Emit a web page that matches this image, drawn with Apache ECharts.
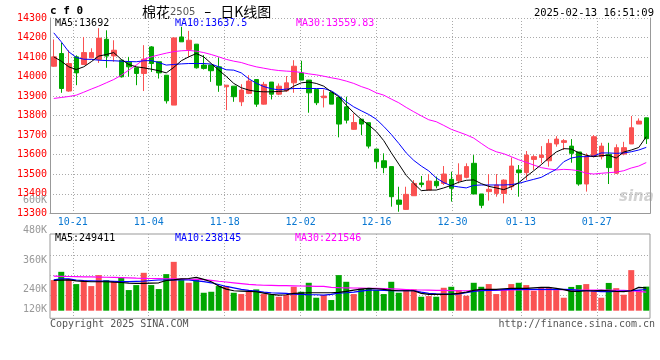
<!DOCTYPE html>
<html><head><meta charset="utf-8">
<script src="https://cdn.jsdelivr.net/npm/echarts@6/dist/echarts.min.js"></script>
<style>html,body{margin:0;padding:0;background:#fff}#c{width:660px;height:360px}</style>
</head><body><div id="c"></div>
<script>
const dates = ['10-16','10-17','10-18','10-21','10-22','10-23','10-24','10-25','10-28','10-29','10-30','10-31',
'11-01','11-04','11-05','11-06','11-07','11-08','11-11','11-12','11-13','11-14','11-15','11-18','11-19','11-20','11-21','11-22','11-25','11-26','11-27','11-28','11-29',
'12-02','12-03','12-04','12-05','12-06','12-09','12-10','12-11','12-12','12-13','12-16','12-17','12-18','12-19','12-20','12-23','12-24','12-25','12-26','12-27','12-30','12-31',
'01-02','01-03','01-06','01-07','01-08','01-09','01-10','01-13','01-14','01-15','01-16','01-17','01-20','01-21','01-22','01-23','01-24','01-27',
'02-05','02-06','02-07','02-10','02-11','02-12','02-13'];
const labelDates = ['10-21','11-04','11-18','12-02','12-16','12-30','01-13','01-27'];

const opens = [14053,14118,13926,14101,14062,14096,14088,14191,14106,14084,14074,14045,14016,14152,14076,14007,13854,14203,14139,14166,14059,14059,14050,
13948,13951,13871,13914,13985,13859,13972,13910,13927,13968,14019,13982,13934,13892,13920,13893,13845,13730,13782,13764,13629,13569,13539,13368,13320,13390,13455,13419,
13464,13453,13474,13467,13484,13556,13399,13411,13402,13402,13436,13522,13508,13576,13586,13569,13655,13663,13644,13614,13450,13593,13590,13602,13505,13603,13655,13757,13789];
const closes = [14101,13939,14067,14019,14123,14123,14197,14105,14135,13999,14050,14016,14089,14067,14019,13876,14198,14178,14186,14045,14042,14030,13956,
13956,13897,13931,13977,13859,13960,13910,13951,13968,14053,13982,13917,13866,13900,13859,13757,13777,13765,13757,13644,13564,13534,13385,13346,13397,13453,13447,13465,
13441,13501,13428,13496,13539,13399,13341,13423,13445,13470,13542,13508,13598,13590,13598,13658,13680,13672,13607,13450,13593,13692,13644,13534,13636,13636,13738,13772,13682];
const lows = [14050,13917,13922,13956,14060,14094,14070,14045,14076,13995,13999,13956,13926,14024,13990,13862,13854,14178,14101,14041,14036,13973,13922,
13828,13871,13849,13910,13845,13857,13883,13905,13922,13917,13982,13815,13854,13842,13859,13689,13760,13727,13700,13632,13530,13505,13334,13308,13317,13390,13433,13419,
13428,13445,13360,13453,13479,13399,13326,13365,13385,13351,13419,13385,13470,13522,13556,13539,13641,13624,13559,13441,13411,13586,13576,13450,13501,13597,13655,13757,13655];
const highs = [14190,14173,14135,14109,14203,14145,14248,14237,14186,14084,14101,14045,14161,14156,14076,14007,14200,14255,14234,14166,14110,14059,14098,
13956,13951,13961,14007,13985,13973,13972,13965,14003,14084,14081,13982,13934,13934,13920,13893,13897,13811,13782,13764,13629,13607,13539,13436,13436,13470,13491,13501,
13488,13542,13513,13556,13556,13598,13399,13501,13501,13474,13586,13547,13619,13598,13644,13680,13695,13680,13680,13614,13607,13701,13661,13661,13653,13666,13798,13786,13789];

const ma5 = [14101,14079,14050,14036,14050,14076,14105,14113,14123,14088,14062,14050,14045,14038,14030,14019,14047,14081,14101,14118,14101,14067,14033,
14001,13965,13943,13931,13924,13922,13922,13924,13927,13951,13968,13972,13965,13951,13922,13897,13854,13815,13781,13752,13719,13672,13610,13552,13494,13453,13416,13419,
13419,13430,13443,13459,13469,13471,13452,13438,13430,13421,13436,13457,13488,13518,13549,13583,13614,13631,13629,13610,13597,13590,13595,13597,13583,13614,13624,13637,13692];
const ma10 = [14224,14178,14127,14098,14089,14088,14084,14082,14081,14079,14077,14076,14081,14082,14072,14059,14062,14065,14067,14067,14067,14064,14050,
14035,14033,14019,13989,13966,13949,13938,13932,13936,13939,13939,13939,13939,13939,13927,13902,13871,13845,13825,13806,13782,13745,13704,13658,13609,13571,13542,13517,
13481,13457,13441,13435,13430,13443,13445,13445,13445,13445,13447,13453,13464,13474,13484,13505,13525,13564,13583,13590,13590,13593,13609,13609,13607,13609,13615,13624,13637.5];
const ma30 = [13888,13893,13898,13905,13920,13936,13951,13968,13985,14007,14033,14059,14088,14101,14111,14120,14128,14132,14134,14130,14123,14113,14101,
14088,14079,14072,14060,14050,14043,14036,14031,14028,14026,14021,14014,14009,14002,13994,13987,13977,13965,13949,13936,13917,13905,13885,13866,13842,13820,13799,13779,
13769,13750,13730,13716,13702,13685,13658,13632,13615,13605,13590,13574,13561,13547,13534,13527,13522,13525,13523,13518,13505,13501,13505,13508,13511,13518,13532,13542,13559.83];

const volumes = [299500,353500,306000,273500,299500,260500,332000,299500,288500,317000,234500,267000,347000,267000,241000,338500,418500,299500,282000,304000,
217000,223500,260500,260500,217000,208500,223500,239000,208500,206500,191000,202000,256000,223500,282000,184500,202000,169500,332000,288500,
208500,245500,245500,234500,208500,288500,217000,239000,239000,191000,195500,191000,249500,256000,234500,197500,282000,256000,273500,208500,
239000,273500,282000,267000,230000,252000,252000,234500,184500,255000,267000,273500,234500,184500,281000,247000,204000,364500,234500,257000];
const volMa5 = [297000,299500,301000,295000,291000,288600,288600,288600,286000,284000,280000,278000,278000,280000,282000,297000,301000,308000,310000,317000,
304000,288600,260500,241000,230000,228000,226000,223600,215000,206000,202000,204000,212700,215000,217000,217000,217000,217000,219000,226000,
234500,241000,245000,243000,239000,232000,230000,230000,230000,213000,206000,206000,206000,208000,213000,221000,232000,239000,239000,239000,
243000,245000,245000,245000,249000,252000,252000,245000,237000,226000,226000,230000,230000,232000,230000,226000,224000,230000,252000,249411];
const volMa10 = [301000,308000,308000,300000,297000,295000,293000,293000,291000,289000,289000,291000,293000,297000,300000,300000,301000,301000,300000,295000,
289000,282000,271000,258000,249000,239000,232000,228000,221000,217000,215000,213000,208000,206000,204000,204000,202000,207000,215000,217000,
221000,228000,234500,234500,232000,230000,230000,230000,230000,221000,213000,210000,208000,208000,210000,217000,226000,230000,232000,234500,
237000,239000,239000,239000,239000,239000,239000,239000,239000,237000,232000,230000,228000,224000,224000,226000,228000,230000,234500,238145];
const volMa30 = [325000,324000,323000,322000,321000,320000,319000,318000,317000,316000,314000,312000,311000,310000,309000,308000,307000,306000,305000,304000,
303000,298000,292000,287000,282000,277000,272000,268000,266000,265000,264000,263000,262000,261000,260000,259000,258000,252000,250000,249000,
248000,247000,246000,245000,244000,242000,240000,238000,236000,235000,234000,233000,232000,231000,230000,230000,231000,232000,233000,234000,
234000,235000,236000,237000,238000,238000,238000,238000,237000,236000,235000,235000,235000,234000,234000,233000,232000,230000,226000,221546];

const priceMin = 13300, priceMax = 14300, priceStep = 100;
const volMin = 100000, volMax = 600000;
const volTickLabels = ['600K','480K','360K','240K','120K'];
const volTickY = [200.5, 230.7, 260.7, 289.3, 309.3];

const UP = '#fa5252', DOWN = '#00a600';
const MONO = "'DejaVu Sans Mono', monospace";
const GRIDC = '#aaaaaa', FRAMEC = '#999999';
const dotted = {color: GRIDC, type: [1, 2], width: 1};

const kData = dates.map((d, i) => [opens[i], closes[i], lows[i], highs[i]]);
const volData = volumes.map((v, i) => ({value: v, itemStyle: {color: closes[i] >= opens[i] ? UP : DOWN}}));
const isLabel = (idx, val) => labelDates.indexOf(val) >= 0;
const last = a => a[a.length - 1];
const mid = {textVerticalAlign: 'middle', verticalAlign: 'middle'};

const chart = echarts.init(document.getElementById('c'), null, {renderer: 'canvas'});
const graphics = [
  {type: 'text', x: 50, y: 11, style: Object.assign({text: 'c f 0', font: "bold 11px " + MONO, fill: '#000'}, mid)},
  {type: 'text', x: 142, y: 12, style: Object.assign({text: '{a|棉花}{b|2505}{c|  –  }{a|日K线图}',
     rich: {a: {font: "14px 'Noto Sans CJK SC'", fill: '#000'}, b: {font: "10px 'DejaVu Sans'", fill: '#555'}, c: {font: "14px 'DejaVu Sans'", fill: '#000'}}}, mid)},
  {type: 'text', x: 654, y: 13, style: Object.assign({text: '2025-02-13 16:51:09', font: "10.5px " + MONO, fill: '#000', textAlign: 'right', align: 'right'}, mid)},
  {type: 'text', x: 55, y: 23.5, style: Object.assign({text: 'MA5:' + last(ma5), font: "10px " + MONO, fill: '#000'}, mid)},
  {type: 'text', x: 175, y: 23.5, style: Object.assign({text: 'MA10:' + last(ma10), font: "10px " + MONO, fill: '#0000ff'}, mid)},
  {type: 'text', x: 296, y: 23.5, style: Object.assign({text: 'MA30:' + last(ma30), font: "10px " + MONO, fill: '#ff00ff'}, mid)},
  {type: 'text', x: 55, y: 238.5, style: Object.assign({text: 'MA5:' + last(volMa5), font: "10px " + MONO, fill: '#000'}, mid)},
  {type: 'text', x: 175, y: 238.5, style: Object.assign({text: 'MA10:' + last(volMa10), font: "10px " + MONO, fill: '#0000ff'}, mid)},
  {type: 'text', x: 295, y: 238.5, style: Object.assign({text: 'MA30:' + last(volMa30), font: "10px " + MONO, fill: '#ff00ff'}, mid)},
  {type: 'text', x: 50, y: 324, style: Object.assign({text: 'Copyright 2025 SINA.COM', font: "10px " + MONO, fill: '#555'}, mid)},
  {type: 'text', x: 655, y: 324, style: Object.assign({text: 'http://finance.sina.com.cn', font: "10px " + MONO, fill: '#555', textAlign: 'right', align: 'right'}, mid)},
  {type: 'text', x: 619, y: 197, style: Object.assign({text: 'sina', font: "italic bold 15px 'DejaVu Sans'", fill: '#d2d2d2'}, mid)}
];
volTickLabels.forEach((t, k) => graphics.push({type: 'text', x: 47, y: volTickY[k],
  style: Object.assign({text: t, font: "10px " + MONO, fill: '#999', textAlign: 'right', align: 'right'}, mid)}));

chart.setOption({
  animation: false,
  backgroundColor: '#fff',
  grid: [
    {left: 50, top: 18, width: 600, height: 195.3},
    {left: 50, top: 234, width: 600, height: 76.7},
    {left: 50, top: 234, width: 600, height: 84.3, show: true, borderColor: FRAMEC, borderWidth: 1, backgroundColor: 'transparent'},
    {left: 50, top: 255.7, width: 600, height: 39.2}
  ],
  xAxis: [
    {type: 'category', gridIndex: 0, data: dates, boundaryGap: true, position: 'top', axisLine: {show: false}, axisTick: {show: false}, axisLabel: {show: false}, splitLine: {show: false}},
    {type: 'category', gridIndex: 0, data: dates, boundaryGap: false, position: 'bottom',
      axisLine: {show: true, lineStyle: {color: FRAMEC}}, axisTick: {show: false},
      axisLabel: {interval: isLabel, color: '#0a78d2', fontFamily: MONO, fontSize: 10, margin: 4},
      splitLine: {show: true, interval: isLabel, lineStyle: dotted}},
    {type: 'category', gridIndex: 1, data: dates, boundaryGap: true, show: false},
    {type: 'category', gridIndex: 2, data: dates, boundaryGap: false, axisLine: {show: false}, axisTick: {show: false}, axisLabel: {show: false},
      splitLine: {show: true, interval: isLabel, lineStyle: dotted}},
    {type: 'category', gridIndex: 3, data: dates, show: false}
  ],
  yAxis: [
    {type: 'value', gridIndex: 0, min: priceMin, max: priceMax, interval: priceStep, position: 'left',
      axisLine: {show: true, lineStyle: {color: FRAMEC}}, axisTick: {show: false},
      axisLabel: {color: '#ff0000', fontFamily: MONO, fontSize: 10, margin: 3, formatter: v => String(v)},
      splitLine: {show: true, lineStyle: dotted}},
    {type: 'value', gridIndex: 0, min: priceMin, max: priceMax, position: 'right',
      axisLine: {show: true, lineStyle: {color: FRAMEC}}, axisTick: {show: false}, axisLabel: {show: false}, splitLine: {show: false}},
    {type: 'value', gridIndex: 1, min: volMin, max: volMax, show: false},
    {type: 'value', gridIndex: 2, min: 0, max: 1, show: false},
    {type: 'value', gridIndex: 3, min: 0, max: 2, interval: 1, axisLine: {show: false}, axisTick: {show: false}, axisLabel: {show: false},
      splitLine: {show: true, lineStyle: dotted}}
  ],
  graphic: graphics,
  series: [
    {type: 'candlestick', xAxisIndex: 0, yAxisIndex: 0, data: kData, barWidth: 5,
      itemStyle: {color: UP, color0: DOWN, borderColor: UP, borderColor0: DOWN, borderWidth: 1}},
    {type: 'line', xAxisIndex: 0, yAxisIndex: 0, data: ma30, symbol: 'none', lineStyle: {color: '#ff00ff', width: 1}},
    {type: 'line', xAxisIndex: 0, yAxisIndex: 0, data: ma10, symbol: 'none', lineStyle: {color: '#0000ff', width: 1}},
    {type: 'line', xAxisIndex: 0, yAxisIndex: 0, data: ma5, symbol: 'none', lineStyle: {color: '#000000', width: 1}},
    {type: 'bar', xAxisIndex: 2, yAxisIndex: 2, data: volData, barWidth: 6, clip: true},
    {type: 'line', xAxisIndex: 2, yAxisIndex: 2, data: volMa30, symbol: 'none', lineStyle: {color: '#ff00ff', width: 1.2}},
    {type: 'line', xAxisIndex: 2, yAxisIndex: 2, data: volMa10, symbol: 'none', lineStyle: {color: '#0000ff', width: 1.2}},
    {type: 'line', xAxisIndex: 2, yAxisIndex: 2, data: volMa5, symbol: 'none', lineStyle: {color: '#000000', width: 1.2}}
  ]
});
</script></body></html>
